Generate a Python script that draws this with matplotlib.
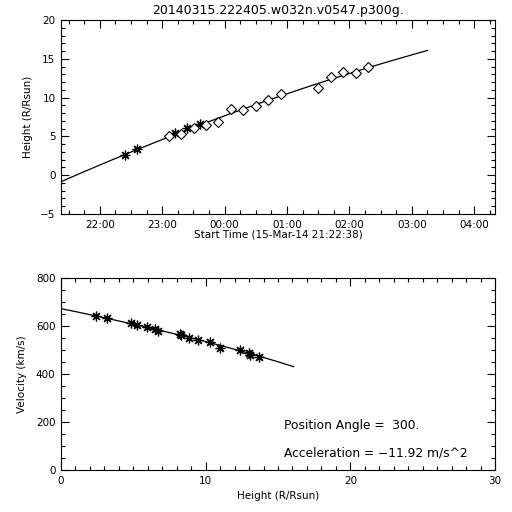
import numpy as np
import matplotlib
matplotlib.use("Agg")
import matplotlib.pyplot as plt
from matplotlib.ticker import MultipleLocator, FixedLocator

# ---------------- data ----------------
title = "20140315.222405.w032n.v0547.p300g."
start_label = "Start Time (15-Mar-14 21:22:38)"

# C2 measurements (asterisks): time (HH:MM:SS, 15/16-Mar-2014) and height (R/Rsun)
c2_times = ["22:24:05", "22:36:05", "23:12:05", "23:24:05", "23:36:05"]
c2_heights = [2.60, 3.38, 5.40, 6.03, 6.58]

# C3 measurements (diamonds)
c3_times = ["23:06:05", "23:18:05", "23:30:05", "23:42:05", "23:54:05",
            "00:06:05", "00:18:05", "00:30:05", "00:42:05", "00:54:05",
            "01:30:05", "01:42:05", "01:54:05", "02:06:05", "02:18:05"]
c3_heights = [5.08, 5.34, 6.10, 6.50, 6.88,
              8.52, 8.40, 8.95, 9.68, 10.45,
              11.22, 12.62, 13.30, 13.12, 13.92]

# velocity panel points (height R/Rsun, velocity km/s)
vel_heights = [2.45, 3.16, 4.86, 5.22, 5.97, 6.50, 6.70, 8.20, 8.30,
               8.87, 9.49, 10.27, 11.0, 12.37, 12.97, 13.05, 13.71]
vel_values = [643, 634, 612, 604, 596, 586, 579, 568, 562,
              548, 540, 532, 509, 500, 489, 480, 470]

position_angle = "300."
acceleration = -11.92  # m/s^2

# fit time span and axis range
fit_start, fit_end = "21:22:38", "03:15:00"
axis_start, axis_end = "21:22:38", "04:20:00"
tick_labels = ["22:00", "23:00", "00:00", "01:00", "02:00", "03:00", "04:00"]

# ---------------- helpers ----------------
RSUN_KM = 696000.0

def hours(s):
    h, m, sec = [float(x) for x in s.split(":")]
    v = h + m / 60 + sec / 3600 - 21.0
    if v < 0:
        v += 24.0
    return v

t2 = np.array([hours(s) for s in c2_times])
t3 = np.array([hours(s) for s in c3_times])
h2 = np.array(c2_heights)
h3 = np.array(c3_heights)

# quadratic fit of height vs time with the stated acceleration
a_rh = acceleration * 3600.0**2 / (RSUN_KM * 1000.0)  # Rsun / hr^2
t_all = np.concatenate([t2, t3])
h_all = np.concatenate([h2, h3])
resid = h_all - 0.5 * a_rh * t_all**2
c1, c0 = np.polyfit(t_all, resid, 1)
tt = np.linspace(hours(fit_start), hours(fit_end), 200)
hh = c0 + c1 * tt + 0.5 * a_rh * tt**2
vv = (c1 + a_rh * tt) * RSUN_KM / 3600.0  # km/s

# ---------------- figure ----------------
plt.rcParams['font.family'] = ['DejaVu Sans']
fig = plt.figure(figsize=(5.12, 5.12), dpi=100)
ax1 = fig.add_axes([61/512, 1 - 214/512, 434/512, 194/512])
ax2 = fig.add_axes([61/512, 1 - 470/512, 434/512, 192/512])

star = dict(marker=(8, 2, 0), markersize=7, markeredgewidth=0.9, color='black', linestyle='none')
diam = dict(marker='D', markersize=5, markerfacecolor='white', markeredgecolor='black',
            markeredgewidth=0.8, linestyle='none')

ax1.plot(tt, hh, color='black', lw=0.9)
ax1.plot(t2, h2, **star)
ax1.plot(t3, h3, **diam)
ax1.set_xlim(hours(axis_start), hours(axis_end))
ax1.set_ylim(-5, 20)
ax1.xaxis.set_major_locator(FixedLocator(np.arange(1, 8)))
ax1.set_xticklabels(tick_labels)
ax1.xaxis.set_minor_locator(MultipleLocator(0.25))
ax1.yaxis.set_major_locator(MultipleLocator(5))
ax1.yaxis.set_minor_locator(MultipleLocator(1))
ax1.set_xlabel(start_label, fontsize=7.5, labelpad=0)
ax1.set_ylabel("Height (R/Rsun)", fontsize=7.5, labelpad=5)
ax1.set_title(title, fontsize=9, pad=4)

ax2.plot(hh, vv, color='black', lw=0.9)
ax2.plot(vel_heights, vel_values, **star)
ax2.set_xlim(0, 30)
ax2.set_ylim(0, 800)
ax2.xaxis.set_major_locator(MultipleLocator(10))
ax2.xaxis.set_minor_locator(MultipleLocator(1))
ax2.yaxis.set_major_locator(MultipleLocator(200))
ax2.yaxis.set_minor_locator(MultipleLocator(50))
ax2.set_xlabel("Height (R/Rsun)", fontsize=7.5, labelpad=4)
ax2.set_ylabel("Velocity (km/s)", fontsize=7.5, labelpad=6)

fig.text(284/512, 1 - 426/512, "Position Angle =  " + position_angle, fontsize=8.8,
         va='center', ha='left')
fig.text(284/512, 1 - 453/512,
         "Acceleration = " + f"{acceleration:.2f}".replace("-", "\u2212") + " m/s^2",
         fontsize=8.8, va='center', ha='left')

for ax in (ax1, ax2):
    ax.tick_params(which='both', direction='in', top=True, right=True, labelsize=7.5,
                   width=0.8, pad=4)
    ax.tick_params(which='major', length=6)
    ax.tick_params(which='minor', length=3)
    for s in ax.spines.values():
        s.set_linewidth(0.8)

fig.savefig("out.png", dpi=100)
